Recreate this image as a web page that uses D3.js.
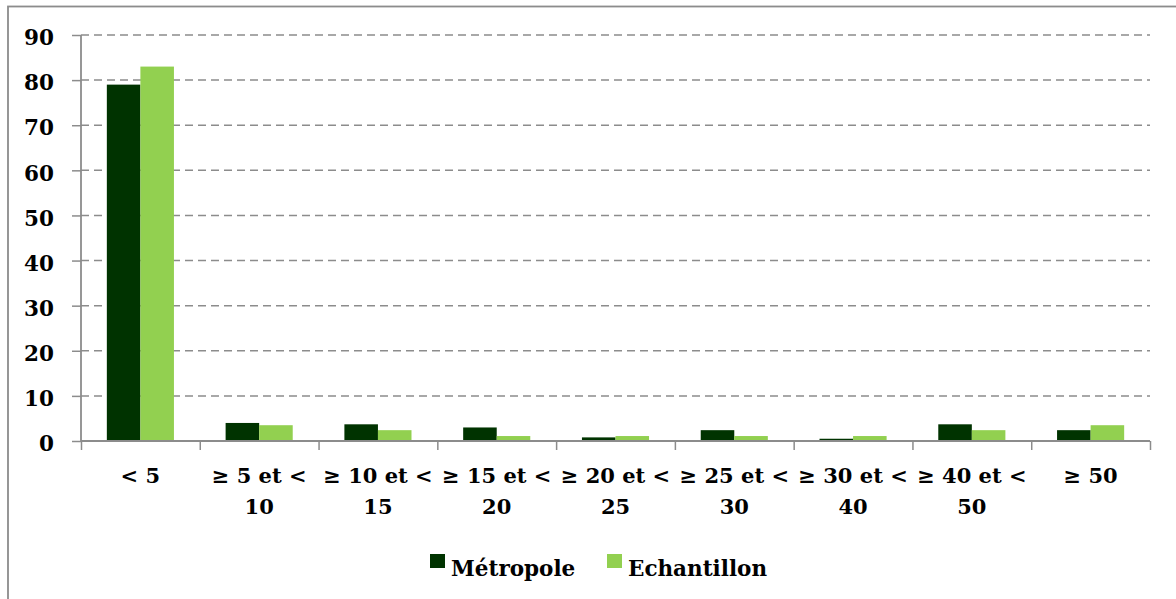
<!DOCTYPE html>
<html>
<head>
<meta charset="utf-8">
<script src="https://cdn.jsdelivr.net/npm/d3@7"></script>
<style>
  html, body { margin: 0; padding: 0; background: #fff; }
  svg text { font-family: "DejaVu Serif", serif; font-weight: bold; fill: #000; }
</style>
</head>
<body>
<svg id="chart" width="1176" height="599"></svg>
<script>
const categories = [["< 5"], ["≥ 5 et <", "10"], ["≥ 10 et <", "15"], ["≥ 15 et <", "20"], ["≥ 20 et <", "25"], ["≥ 25 et <", "30"], ["≥ 30 et <", "40"], ["≥ 40 et <", "50"], ["≥ 50"]];
const seriesNames = ["Métropole", "Echantillon"];
const metropole = [79, 4, 3.7, 3, 0.8, 2.4, 0.5, 3.7, 2.4];
const echantillon = [83, 3.5, 2.4, 1.1, 1.1, 1.1, 1.1, 2.4, 3.5];
const yTicks = [0, 10, 20, 30, 40, 50, 60, 70, 80, 90];
const colors = ["#003300", "#92D050"];

const svg = d3.select("#chart");
const W = 1176, H = 599;
const m = { left: 81, right: 1150, top: 35, bottom: 441 };

// outer frame
svg.append("rect").attr("x", 8).attr("y", 6.5).attr("width", W).attr("height", H)
  .attr("fill", "none").attr("stroke", "#8c8c8c").attr("stroke-width", 1.8);

const catKeys = categories.map((d, i) => i);
const x = d3.scaleBand().domain(catKeys).range([m.left, m.right]).paddingInner(0).paddingOuter(0);
const x1 = d3.scaleBand().domain([0, 1]).range([0, x.bandwidth()]).paddingOuter(0.77).paddingInner(0);
const y = d3.scaleLinear().domain([0, 90]).range([m.bottom, m.top]);

// gridlines
svg.append("g").selectAll("line").data(yTicks.filter(d => d > 0)).join("line")
  .attr("x1", m.left).attr("x2", m.right)
  .attr("y1", d => y(d)).attr("y2", d => y(d))
  .attr("stroke", "#8c8c8c").attr("stroke-width", 1.5).attr("stroke-dasharray", "8,5");

// bars
const data = catKeys.map(i => [metropole[i], echantillon[i]]);
const groups = svg.append("g").selectAll("g").data(data).join("g")
  .attr("transform", (d, i) => `translate(${x(i)},0)`);
groups.selectAll("rect").data(d => d.map((v, j) => ({ v, j }))).join("rect")
  .attr("x", d => x1(d.j)).attr("width", x1.bandwidth())
  .attr("y", d => y(d.v)).attr("height", d => y(0) - y(d.v))
  .attr("fill", d => colors[d.j]);

// y axis
const yAxis = svg.append("g").attr("transform", `translate(${m.left},0)`)
  .call(d3.axisLeft(y).tickValues(yTicks).tickSize(9).tickPadding(18).tickFormat(d3.format("d")));
yAxis.select(".domain").attr("stroke", "#8c8c8c").attr("stroke-width", 1.8).attr("d", `M0,${m.top}V${m.bottom}`);
yAxis.selectAll(".tick line").attr("stroke", "#8c8c8c").attr("stroke-width", 1.5);
yAxis.selectAll(".tick text").style("font-size", "21.5px").attr("dy", "0.45em");

// x axis
const xAxisScale = d3.scaleLinear().domain([0, categories.length]).range([m.left, m.right]);
const xAxis = svg.append("g").attr("transform", `translate(0,${m.bottom})`)
  .call(d3.axisBottom(xAxisScale).tickValues(d3.range(0, categories.length + 1)).tickSize(9).tickFormat(""));
xAxis.select(".domain").attr("stroke", "#8c8c8c").attr("stroke-width", 1.8).attr("d", `M${m.left},0H${m.right}`);
xAxis.selectAll(".tick line").attr("stroke", "#8c8c8c").attr("stroke-width", 1.5);

// category labels
const lbl = svg.append("g").selectAll("text").data(categories).join("text")
  .attr("text-anchor", "middle").style("font-size", "21px")
  .attr("transform", (d, i) => `translate(${x(i) + x.bandwidth() / 2},483)`);
lbl.selectAll("tspan").data(d => d).join("tspan")
  .attr("x", 0).attr("y", (d, k) => k * 31).text(d => d);

// legend
const legend = svg.append("g");
const legX = [430, 607];
seriesNames.forEach((name, j) => {
  legend.append("rect").attr("x", legX[j]).attr("y", 554).attr("width", 15).attr("height", 14).attr("fill", colors[j]);
  legend.append("text").attr("x", legX[j] + 21).attr("y", 576).style("font-size", "21.5px").text(name);
});
</script>
</body>
</html>
